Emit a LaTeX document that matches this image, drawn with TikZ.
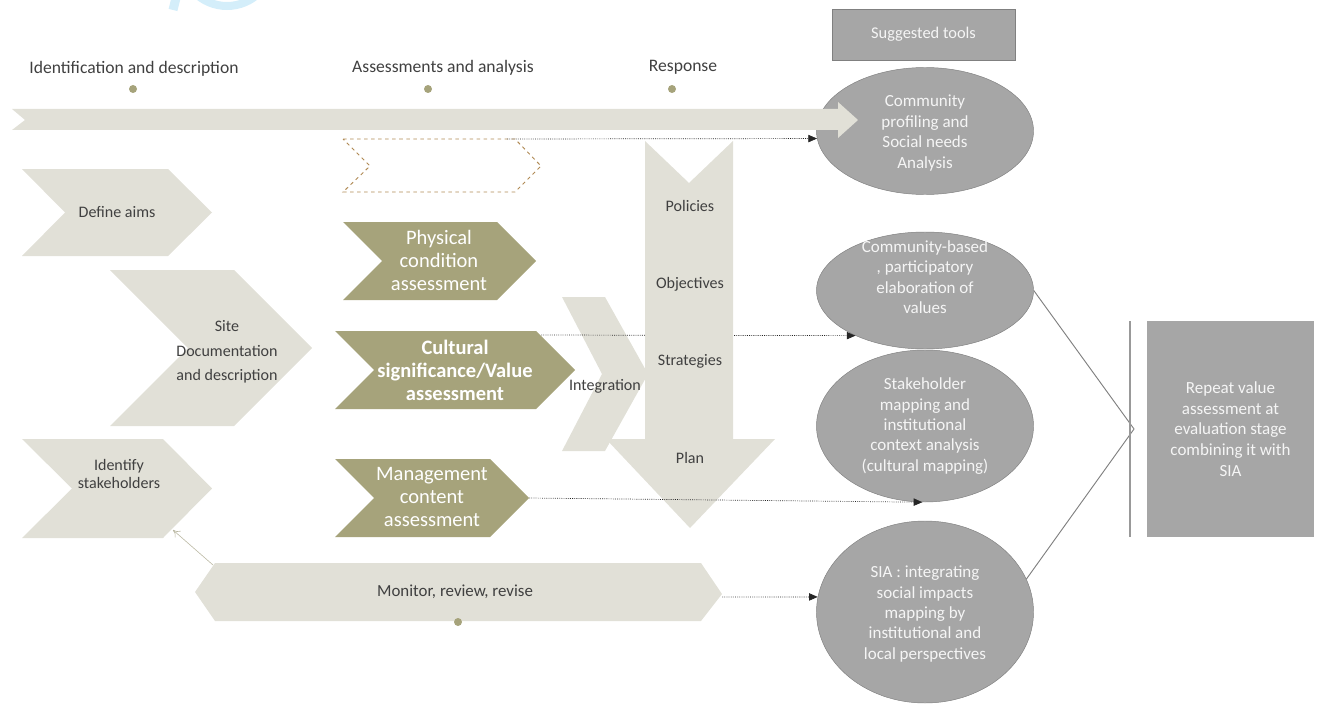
\documentclass[tikz,border=0pt]{standalone}
\usepackage{fontspec}
\setmainfont{Carlito}
\usepackage{tikz}
\usetikzlibrary{shapes,arrows,arrows.meta,positioning}

\definecolor{pale}{RGB}{225,224,215}
\definecolor{olive}{RGB}{166,163,123}
\definecolor{toolgray}{RGB}{166,166,166}
\definecolor{toolline}{RGB}{128,128,128}
\definecolor{ink}{RGB}{64,64,64}
\definecolor{dashbrown}{RGB}{176,138,84}
\definecolor{wmblue}{RGB}{212,238,250}
\definecolor{linkgray}{RGB}{184,182,160}

\begin{document}
\begin{tikzpicture}[x=0.03cm,y=-0.03cm]
\tikzstyle{head}=[text=ink, font=\fontsize{15}{17}\selectfont]
\tikzstyle{dot}=[circle, fill=olive, inner sep=0pt, minimum size=0.24cm]
\tikzstyle{chev}=[fill=pale]
\tikzstyle{olivechev}=[fill=olive]
\tikzstyle{paletext}=[text=ink, align=center, font=\fontsize{13.7}{15.4}\selectfont]
\tikzstyle{olivetext}=[text=white, align=center, font=\fontsize{17.5}{19.6}\selectfont]
\tikzstyle{tool}=[ellipse, fill=toolgray, draw=toolline, minimum width=6.51cm, inner sep=0pt]
\tikzstyle{tooltext}=[text=white!96!black, align=center, font=\fontsize{14.5}{17.4}\selectfont]
\tikzstyle{toolbox}=[rectangle, fill=toolgray, text=white!96!black, align=center, font=\fontsize{14.5}{17.6}\selectfont]
\tikzstyle{connect}=[draw, densely dotted, draw=black!85, line width=0.6pt, -{Triangle[length=2.6mm,width=2.2mm]}]
\tikzstyle{bracket}=[draw=toolline, line width=0.8pt]

\useasboundingbox (0,0) rectangle (1324,704);
\clip (0,0) rectangle (1324,704);

% watermark piece at the top
\draw[wmblue, line width=0.24cm] (227,-40) circle [radius=46];
\draw[wmblue, line width=0.27cm] (176,-2) -- (173,10);

% phase headings
	\node[head] (hd_id) at (134,69) []{Identification and description};
	\node[head] (hd_as) at (443,68) []{Assessments and analysis};
	\node[head] (hd_re) at (683,67) []{Response};
	\node[dot] (dot_id) at (133,89) []{};
	\node[dot] (dot_as) at (428,89) []{};
	\node[dot] (dot_re) at (672,89) []{};

% suggested tools
	\node[toolbox, draw=toolline, minimum width=5.49cm, minimum height=1.53cm, font=\fontsize{14}{16}\selectfont] (sugg) at (923.5,34.5) []{Suggested tools};
	\node[tool, minimum height=3.81cm] (ell1) at (925,131) []{};
	\node[tool, minimum height=3.51cm] (ell2) at (925,290.5) []{};
	\node[tool, minimum height=4.56cm] (ell3) at (925,426) []{};
	\node[tool, minimum height=5.46cm] (ell4) at (925,612) []{};
	\node[tooltext] (ell1txt) at (925,133) []{Community\\profiling and\\Social needs\\Analysis};
	\node[tooltext] (ell2txt) at (925,277) []{Community-based\\, participatory\\elaboration of\\values};
	\node[tooltext] (ell3txt) at (925,426) []{Stakeholder\\mapping and\\institutional\\context analysis\\(cultural mapping)};
	\node[tooltext] (ell4txt) at (925,614) []{SIA : integrating\\social impacts\\mapping by\\institutional and\\local perspectives};

% timeline band
\fill[chev] (12,109) -- (838,109) -- (838,102) -- (858,120) -- (838,138) -- (838,130) -- (12,130) -- (25,120) -- cycle;

% identification chevrons
\fill[chev] (22,169) -- (168,169) -- (212,212.5) -- (168,256) -- (22,256) -- (65,212.5) -- cycle;
\fill[chev] (110,270) -- (234,270) -- (312,348) -- (234,426) -- (110,426) -- (188,348) -- cycle;
\fill[chev] (22,439) -- (163,439) -- (212,488.5) -- (163,538) -- (22,538) -- (72,488.5) -- cycle;
	\node[paletext] (aims) at (117,212.5) []{Define aims};
	\node[paletext, font=\fontsize{13.7}{21}\selectfont] (sitedoc) at (227,352) []{Site\\Documentation\\and description};
	\node[paletext] (stake) at (119,474) []{Identify\\stakeholders};
	\coordinate (stake_se) at (173,530);

% assessment chevrons
\draw[dashbrown, dashed, line width=0.8pt] (343,139) -- (515,139) -- (541,166) -- (515,192) -- (343,192) -- (370,166) -- cycle;
\fill[olivechev] (343,222) -- (497,222) -- (536,261) -- (497,300) -- (343,300) -- (382,261) -- cycle;
\fill[olivechev] (335,331) -- (536,331) -- (575,370) -- (536,409) -- (335,409) -- (374,370) -- cycle;
\fill[olivechev] (335,459) -- (490,459) -- (529,498) -- (490,537) -- (335,537) -- (374,498) -- cycle;
	\node[olivetext] (phys) at (439,260) []{Physical\\condition\\assessment};
	\node[olivetext, font=\fontsize{17.5}{19.6}\selectfont\bfseries] (cult) at (455,370) []{Cultural\\significance/Value\\assessment};
	\node[olivetext] (mgmt) at (432,497) []{Management\\content\\assessment};
	\coordinate (dash_out) at (507,139);
	\coordinate (cult_out) at (541,335);
	\coordinate (mgmt_out) at (529,498);

% integration and response
\fill[chev] (562,297) -- (605,297) -- (648,374) -- (605,451) -- (562,451) -- (602,374) -- cycle;
	\path (cult_out) edge [connect] (ell2.213);
\fill[chev] (645,141) -- (689,183) -- (733,141) -- (733,439) -- (775,439) -- (690,528) -- (606,439) -- (645,439) -- cycle;
	\node[paletext] (integ) at (605,386) []{Integration};
	\node[paletext] (policies) at (690,206) []{Policies};
	\node[paletext] (objectives) at (690,284) []{Objectives};
	\node[paletext] (strategies) at (690,361) []{Strategies};
	\node[paletext] (plan) at (690,458) []{Plan};

% monitoring
\fill[chev] (215,563) -- (701,563) -- (722,594) -- (701,621) -- (215,621) -- (195,592) -- cycle;
	\node[paletext, font=\fontsize{14.4}{16}\selectfont] (monitor) at (455,592) []{Monitor, review, revise};
	\node[dot] (dot_mo) at (458,622) []{};
	\coordinate (mon_out) at (722,597);
	\coordinate (mon_nw) at (213,565);

% repeat box
	\node[toolbox, minimum width=5.01cm, minimum height=6.48cm] (repeat) at (1230.5,429) []{Repeat value\\assessment at\\evaluation stage\\combining it with\\SIA};
	\coordinate (vl_top) at (1130,321);
	\coordinate (vl_bot) at (1130,537);
	\coordinate (brk) at (1134,429);

	\path
		(dash_out) edge [connect]  (ell1.184)
		(mgmt_out) edge [connect]  (ell3.268)
		(mon_out) edge [connect]  (ell4.172);
	\draw[linkgray, line width=0.5pt, -{To[length=2mm,width=2.6mm]}] (mon_nw) -- (stake_se);
	\draw[bracket] (ell2.east) -- (brk) -- (ell4.18);
	\draw[bracket, line width=1pt, draw=toolline!80] (vl_top) -- (vl_bot);

\end{tikzpicture}
\end{document}
